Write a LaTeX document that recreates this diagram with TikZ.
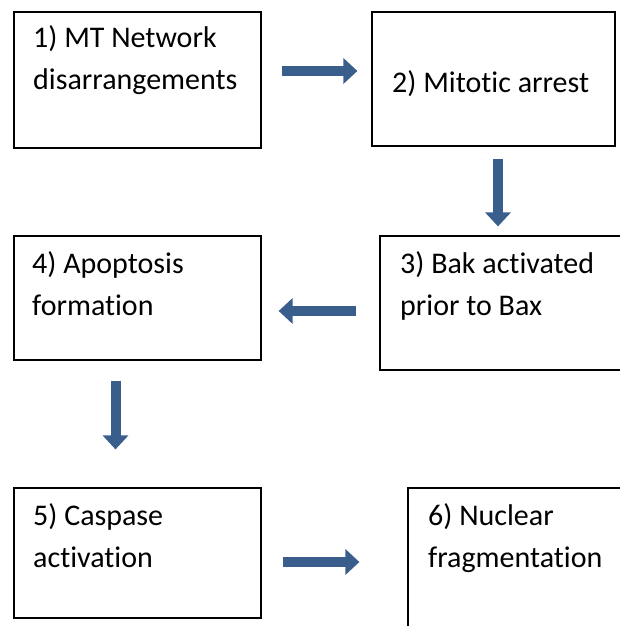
\documentclass[tikz,border=0pt]{standalone}
\usepackage{fontspec}
\setmainfont{Carlito}[Ligatures=NoCommon]
\usepackage{tikz}
\usetikzlibrary{arrows.meta}

\definecolor{arrowblue}{RGB}{58,94,140}

\begin{document}
\begin{tikzpicture}[x=1pt, y=-1pt]
            \tikzset{box/.style = {shape=rectangle, draw, line width=1.2pt, inner sep=0pt}}
            \tikzset{txt/.style = {anchor=north west, inner sep=0pt, align=left,
                font=\fontsize{30}{42}\selectfont}}
            \tikzset{flow/.style = {draw=arrowblue, line width=10pt,
                -{Triangle[width=25pt, length=14pt]}}}

            \clip (0,0) rectangle (620,626);

            \node[box, minimum width=247pt, minimum height=136pt] (mt) at (137.5,80) {};
            \node[box, minimum width=243pt, minimum height=134pt] (mitosis) at (493.5,79) {};
            \node[box, minimum width=243pt, minimum height=134pt] (bak) at (501.5,303) {};
            \node[box, minimum width=247pt, minimum height=124pt] (apopt) at (137.5,298) {};
            \node[box, minimum width=247pt, minimum height=130pt] (caspase) at (137.5,553) {};
            \node[box, minimum width=243pt, minimum height=145pt] (nuclear) at (529.5,560.5) {};

            \node[txt] (mttext) at (33,25) {1) MT Network\\disarrangements};
            \node[txt] (mitosistext) at (392,70) {2) Mitotic arrest};
            \node[txt] (baktext) at (400,251) {3) Bak activated\\prior to Bax};
            \node[txt] (apopttext) at (32,251) {4) Apoptosis\\formation};
            \node[txt] (caspasetext) at (33,503) {5) Caspase\\activation};
            \node[txt] (nucleartext) at (428,503) {6) Nuclear\\fragmentation};

            \draw[flow] ([xshift=20pt, yshift=9pt]mt.east) -- ([xshift=-14pt, yshift=8pt]mitosis.west);
            \draw[flow] ([xshift=4.5pt, yshift=-12pt]mitosis.south) -- ([xshift=-3.5pt, yshift=9pt]bak.north);
            \draw[flow] ([xshift=-23pt, yshift=-8pt]bak.west) -- ([xshift=17pt, yshift=-13pt]apopt.east);
            \draw[flow] ([xshift=-22pt, yshift=-20pt]apopt.south) -- ([xshift=-22pt, yshift=38pt]caspase.north);
            \draw[flow] ([xshift=21pt, yshift=-9pt]caspase.east) -- ([xshift=-48pt, yshift=-1.5pt]nuclear.west);
\end{tikzpicture}
\end{document}
